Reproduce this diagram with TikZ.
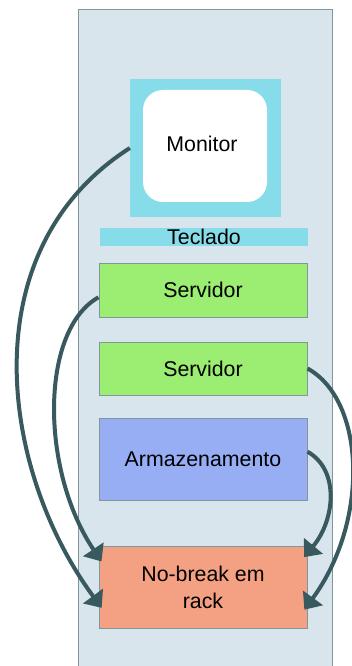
\documentclass[tikz,border=0pt]{standalone}
\usepackage{fontspec}
\setmainfont{Liberation Sans}
\usepackage{tikz}
\usetikzlibrary{arrows.meta, positioning}
\usepackage{xcolor}
\definecolor{rackfill}{RGB}{217,229,236}
\definecolor{rackline}{RGB}{127,150,155}
\definecolor{screencyan}{RGB}{134,220,232}
\definecolor{servergreen}{RGB}{155,238,114}
\definecolor{storeblue}{RGB}{151,174,245}
\definecolor{upsorange}{RGB}{244,160,131}
\definecolor{cablegray}{RGB}{56,90,95}

\begin{document}
\begin{tikzpicture}[
    x=0.75pt, y=-0.75pt,
    font=\fontsize{16}{20.25}\selectfont,
    unit/.style={draw=rackline, line width=0.75pt, minimum width=156pt, inner sep=0pt, align=center},
    cable/.style={-{Triangle[length=11pt, width=18pt]}, cablegray, line width=3pt, shorten >=-4pt},
]
\clip (0,0) rectangle (352,666);

% rack cabinet
\draw[rackline, fill=rackfill, line width=0.75pt] (78,10) rectangle (332,680);

\node[fill=screencyan, minimum width=113pt, minimum height=103.5pt, inner sep=0pt] (monitor) at (205.5,148) {};
\node[fill=white, rounded corners=15pt, minimum width=93pt, minimum height=84pt, inner sep=0pt] (screen) at (205,146) {};
\node (montext) at (202,144) {Monitor};
\node[fill=screencyan, minimum width=156pt, minimum height=13.5pt, inner sep=0pt] (teclado) at (204,237) {Teclado};
\node[unit, fill=servergreen, minimum height=40.5pt] (serv1) at (203,290) {Servidor};
\node[unit, fill=servergreen, minimum height=39.75pt] (serv2) at (203,368.5) {Servidor};
\node[unit, fill=storeblue, minimum height=61.5pt] (armaz) at (203,459) {Armazenamento};
\node[unit, fill=upsorange, minimum height=61.5pt] (nobreak) at (203,587) {No-break em\\rack};

% power cables
\draw[cable] (monitor.west) .. controls (-30,250) and (0,470) .. (nobreak.189);
\draw[cable] (serv1.184) .. controls (40,330) and (40,470) .. (nobreak.164);
\draw[cable] (serv2.east) .. controls (365,400) and (370,520) .. (nobreak.-10);
\draw[cable] (armaz.4) .. controls (340,470) and (335,520) .. (nobreak.18);

\end{tikzpicture}
\end{document}
